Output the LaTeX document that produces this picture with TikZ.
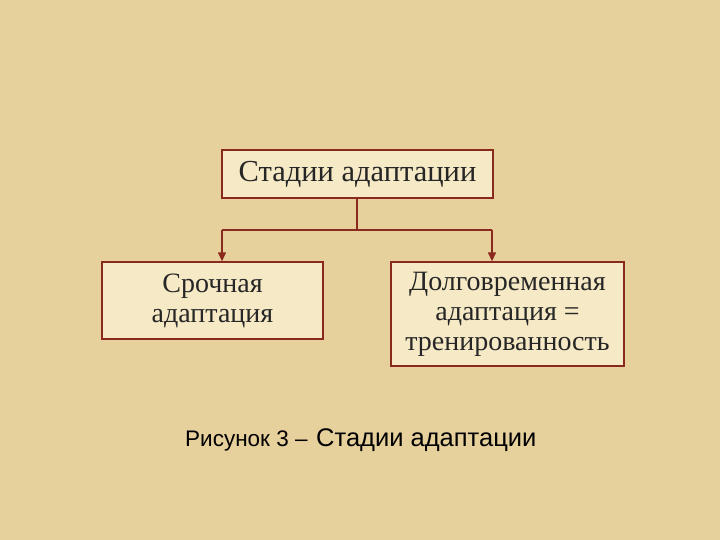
\documentclass[tikz,border=0pt]{standalone}
\usepackage{fontspec}
\setmainfont{Liberation Serif}
\newfontfamily\arialf{Liberation Sans}
\usetikzlibrary{arrows.meta}
\definecolor{bg}{HTML}{E6D09C}
\definecolor{boxfill}{HTML}{F6E9C6}
\definecolor{edge}{HTML}{8A2A1E}
\tikzset{bx/.style={draw=edge,line width=1.3pt,fill=boxfill,inner sep=0pt,align=center,font=\fontsize{28}{30}\selectfont,text=black!85},
ln/.style={draw=edge,line width=1.3pt},
ar/.style={ln,-{Triangle[length=9pt,width=8pt]}}}
\begin{document}
\begin{tikzpicture}[x=1pt,y=-1pt]
\fill[bg] (0,0) rectangle (720,540);
\useasboundingbox (0,0) rectangle (720,540);
\node[bx,minimum width=271pt,minimum height=48pt,font=\fontsize{30.5}{30}\selectfont] (top) at (357.5,174) {Стадии адаптации};
\node[bx,minimum width=221pt,minimum height=77pt] (l) at (212.5,300.5) {Срочная\\адаптация};
\node[bx,minimum width=233pt,minimum height=104pt] (r) at (507.5,314) {Долговременная\\адаптация =\\тренированность};
\coordinate (j) at (357,230);
\coordinate (jl) at (222,230);
\coordinate (jr) at (492,230);
\draw[ln] (top.south -| j) -- (j);
\draw[ln] (jl) -- (jr);
\draw[ar] (jl) -- (jl |- l.north);
\draw[ar] (jr) -- (jr |- r.north);
\node[anchor=base west,font=\arialf\fontsize{22.5}{24}\selectfont,inner sep=0pt] (c1) at (185,446) {Рисунок 3 –};
\node[anchor=base west,font=\arialf\fontsize{25.5}{28}\selectfont,inner sep=0pt] (c2) at (316,446) {Стадии адаптации};
\end{tikzpicture}
\end{document}
